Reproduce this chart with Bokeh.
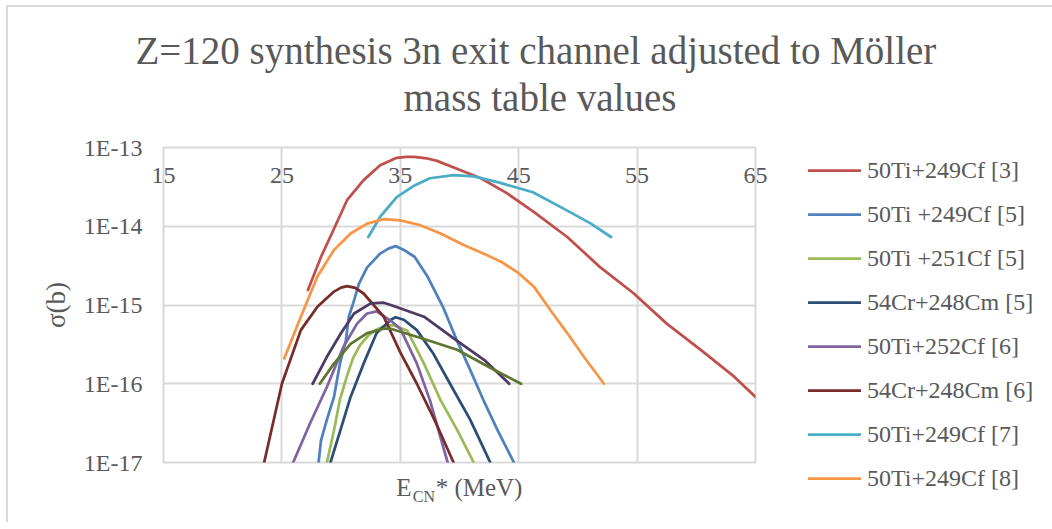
from bokeh.plotting import figure
from bokeh.models import (FixedTicker, CustomJSTickFormatter, Legend, LegendItem, Title, LinearAxis)
from bokeh.embed import file_html
from bokeh.resources import INLINE

TITLE_LINES = ["Z=120 synthesis 3n exit channel adjusted to Möller", "mass table values"]
X_TITLE = ["E", "CN", "* (MeV)"]
Y_TITLE = "σ(b)"
X_TICKS = [15, 25, 35, 45, 55, 65]
Y_TICKS = [1e-17, 1e-16, 1e-15, 1e-14, 1e-13]

# 50Ti+249Cf [3]
ti249_3_x = [27.2, 28.3, 29.4, 30.5, 31.9, 33.3, 34.7, 35.5, 36.2, 37.2, 38.1, 40.1, 41.8, 44.0, 46.3, 49.1, 51.9, 54.7, 57.5, 60.4, 63.2, 65.0]
ti249_3_y = [1.55e-15, 4.07e-15, 9.3e-15, 2.14e-14, 3.85e-14, 5.96e-14, 7.4e-14, 7.6e-14, 7.6e-14, 7.3e-14, 6.76e-14, 5.13e-14,
             4.07e-14, 2.63e-14, 1.51e-14, 7.3e-15, 3.0e-15, 1.41e-15, 5.8e-16, 2.67e-16, 1.23e-16, 6.8e-17]
# 50Ti +249Cf [5]
ti249_5_x = [28.1, 28.3, 28.8, 29.4, 29.9, 30.4, 30.65, 31.1, 31.5, 32.2, 33.3, 34.0, 34.6, 35.3, 36.2, 37.3, 38.6, 39.8, 40.9, 42.0, 43.2, 44.6]
ti249_5_y = [1e-17, 1.9e-17, 3.5e-17, 6.8e-17, 1.8e-16, 3.5e-16, 7.1e-16, 1.15e-15, 1.86e-15, 3.0e-15,
             4.5e-15, 5.2e-15, 5.6e-15, 5.0e-15, 4.1e-15, 2.3e-15, 9.5e-16, 3.5e-16, 1.5e-16, 6.3e-17, 2.6e-17, 1e-17]
# 50Ti +251Cf [5]
ti251_5_x = [28.8, 29.4, 29.9, 30.5, 31.0, 31.6, 32.3, 33.0, 33.8, 34.5, 35.6, 37.0, 38.4, 39.8, 41.2]
ti251_5_y = [1e-17, 2.57e-17, 6.3e-17, 1.26e-16, 2.1e-16, 3.1e-16, 4.1e-16, 4.9e-16, 5.5e-16, 5.5e-16,
             4.7e-16, 1.8e-16, 6.2e-17, 2.6e-17, 1e-17]
# 54Cr+248Cm [5]
cr248_5_x = [29.1, 29.95, 30.8, 31.9, 33.0, 34.2, 34.6, 35.3, 36.4, 37.8, 39.2, 40.9, 42.6]
cr248_5_y = [1e-17, 2.6e-17, 6.8e-17, 1.8e-16, 4.4e-16, 6.5e-16, 7.0e-16, 6.5e-16, 4.8e-16, 2.4e-16, 1e-16, 3.5e-17, 1e-17]
# 50Ti+252Cf [6]
ti252_6_x = [25.95, 27.4, 28.8, 30.2, 31.35, 32.2, 33.0, 34.2, 35.0, 36.4, 37.5, 39.0]
ti252_6_y = [1e-17, 3.2e-17, 9.1e-17, 2.95e-16, 5.8e-16, 7.8e-16, 8.3e-16, 6.3e-16, 5.0e-16, 1.8e-16, 6.2e-17, 1e-17]
# 54Cr+248Cm [6]
cr248_6_x = [23.5, 25.0, 26.6, 28.0, 29.4, 30.0, 30.5, 31.2, 31.9, 33.6, 35.0, 36.4, 38.0, 39.5]
cr248_6_y = [1e-17, 1e-16, 4.8e-16, 9.5e-16, 1.48e-15, 1.66e-15, 1.74e-15, 1.65e-15, 1.4e-15, 7.1e-16, 2.5e-16, 1e-16, 3.2e-17, 1e-17]
# 50Ti+249Cf [7]
ti249_7_x = [32.3, 33.3, 34.7, 36.2, 37.5, 39.5, 41.2, 43.3, 46.2, 49.1, 51.1, 52.8]
ti249_7_y = [7.3e-15, 1.32e-14, 2.34e-14, 3.3e-14, 4.07e-14, 4.47e-14, 4.3e-14, 3.6e-14, 2.7e-14, 1.58e-14, 1.08e-14, 7.3e-15]
# 50Ti+249Cf [8]
ti249_8_x = [25.2, 26.6, 28.0, 29.4, 30.8, 32.2, 33.6, 35.0, 36.7, 38.4, 40.4, 42.3, 43.5, 44.9, 46.3, 47.7, 49.1, 50.5, 52.2]
ti249_8_y = [2.1e-16, 7.1e-16, 2.3e-15, 5.0e-15, 8.1e-15, 1.08e-14, 1.23e-14, 1.19e-14, 1.03e-14, 8.1e-15,
             5.75e-15, 4.3e-15, 3.55e-15, 2.6e-15, 1.7e-15, 8.5e-16, 4.4e-16, 2.2e-16, 1.0e-16]
# unlabeled series 9 and 10
s9_x = [27.6, 28.8, 30.0, 31.1, 32.5, 33.6, 34.2, 37.0, 39.8, 42.1, 44.2]
s9_y = [1e-16, 2.2e-16, 4.4e-16, 7.8e-16, 1.05e-15, 1.07e-15, 1.0e-15, 7.1e-16, 3.5e-16, 2.0e-16, 1e-16]
s10_x = [28.2, 29.4, 30.8, 32.2, 33.6, 34.2, 37.0, 39.8, 42.6, 45.2]
s10_y = [1e-16, 1.8e-16, 3.2e-16, 4.4e-16, 5.0e-16, 5.0e-16, 3.7e-16, 2.7e-16, 1.6e-16, 1e-16]

SERIES = [
    ("50Ti+249Cf [3]", ti249_3_x, ti249_3_y, "#C0504D"),
    ("50Ti +249Cf [5]", ti249_5_x, ti249_5_y, "#4F81BD"),
    ("50Ti +251Cf [5]", ti251_5_x, ti251_5_y, "#9BBB59"),
    ("54Cr+248Cm [5]", cr248_5_x, cr248_5_y, "#2C4D75"),
    ("50Ti+252Cf [6]", ti252_6_x, ti252_6_y, "#8064A2"),
    ("54Cr+248Cm [6]", cr248_6_x, cr248_6_y, "#772C2A"),
    ("50Ti+249Cf [7]", ti249_7_x, ti249_7_y, "#4BACC6"),
    ("50Ti+249Cf [8]", ti249_8_x, ti249_8_y, "#F79646"),
    (None, s9_x, s9_y, "#4D3B62"),
    (None, s10_x, s10_y, "#5F7530"),
]

FONT = "Liberation Serif"
GREY = "#595959"
GRID = "#d9d9d9"

p = figure(frame_width=592, frame_height=315, output_backend="svg", toolbar_location=None,
           y_axis_type="log", x_range=(15, 65), y_range=(1e-17, 1e-13),
           x_axis_location="above", min_border_left=155, min_border_right=290,
           min_border_top=140, min_border_bottom=60)
p.styles = {"border-left": "2px solid #d9d9d9", "border-top": "2px solid #d9d9d9",
            "margin-left": "6px", "margin-top": "5px"}
p.outline_line_color = GRID
p.outline_line_width = 2


def plain_axis(ax):
    ax.axis_line_color = None
    ax.major_tick_line_color = None
    ax.minor_tick_line_color = None
    ax.major_tick_in = 0
    ax.major_tick_out = 0
    ax.minor_tick_out = 0
    ax.minor_tick_in = 0


# x tick labels: axis at the top edge, labels hanging down into the plot
xa = p.xaxis[0]
plain_axis(xa)
xa.ticker = FixedTicker(ticks=X_TICKS)
xa.major_label_standoff = -35
xa.major_label_text_font = FONT
xa.major_label_text_font_size = "24px"
xa.major_label_text_color = GREY

# x-axis title with subscript, drawn by two tickless axes below
E_POS, CN_POS, REST_POS = 35.31, 37.0, 41.65
xt1 = LinearAxis(ticker=FixedTicker(ticks=[E_POS, REST_POS]),
                 formatter=CustomJSTickFormatter(args=dict(t=[X_TITLE[0], X_TITLE[2]]), code="return t[index];"))
plain_axis(xt1)
xt1.major_label_standoff = 11
xt1.major_label_text_font = FONT
xt1.major_label_text_font_size = "25px"
xt1.major_label_text_color = GREY
p.add_layout(xt1, "below")
xt2 = LinearAxis(ticker=FixedTicker(ticks=[CN_POS]),
                 formatter=CustomJSTickFormatter(args=dict(t=[X_TITLE[1]]), code="return t[index];"))
plain_axis(xt2)
xt2.major_label_standoff = -16
xt2.major_label_text_font = FONT
xt2.major_label_text_font_size = "16px"
xt2.major_label_text_color = GREY
p.add_layout(xt2, "below")

# y axis
ya = p.yaxis[0]
plain_axis(ya)
ya.ticker = FixedTicker(ticks=Y_TICKS)
ya.formatter = CustomJSTickFormatter(code="return '1E' + Math.round(Math.log10(tick));")
ya.major_label_standoff = 21
ya.major_label_text_font = FONT
ya.major_label_text_font_size = "24px"
ya.major_label_text_color = GREY
ya.axis_label = Y_TITLE
ya.axis_label_text_font = FONT
ya.axis_label_text_font_size = "27px"
ya.axis_label_text_font_style = "normal"
ya.axis_label_text_color = GREY
ya.axis_label_standoff = 10

for g in (p.xgrid[0], p.ygrid[0]):
    g.grid_line_color = GRID
    g.grid_line_width = 2

items = []
for name, xs, ys, col in SERIES:
    r = p.line(xs, ys, line_color=col, line_width=2.75, line_cap="round", line_join="round")
    if name:
        items.append(LegendItem(label=name, renderers=[r]))

legend = Legend(items=items, location=(53, -30), glyph_width=53, glyph_height=28,
                label_height=28, spacing=16, label_standoff=6, padding=0, margin=0,
                border_line_alpha=0, background_fill_alpha=0,
                label_text_font=FONT, label_text_font_size="24px", label_text_color=GREY)
p.add_layout(legend, "right")

# title: line 2 (with room below it), then line 1 directly above
p.add_layout(Title(text=TITLE_LINES[1], align="left", offset=240, standoff=53, vertical_align="top",
                   text_font=FONT, text_font_size="39px", text_font_style="normal", text_color=GREY), "above")
p.add_layout(Title(text=TITLE_LINES[0], align="left", offset=-28, standoff=-45, vertical_align="bottom",
                   text_font=FONT, text_font_size="39px", text_font_style="normal", text_color=GREY), "above")

open("out.html", "w").write(file_html(p, INLINE))
